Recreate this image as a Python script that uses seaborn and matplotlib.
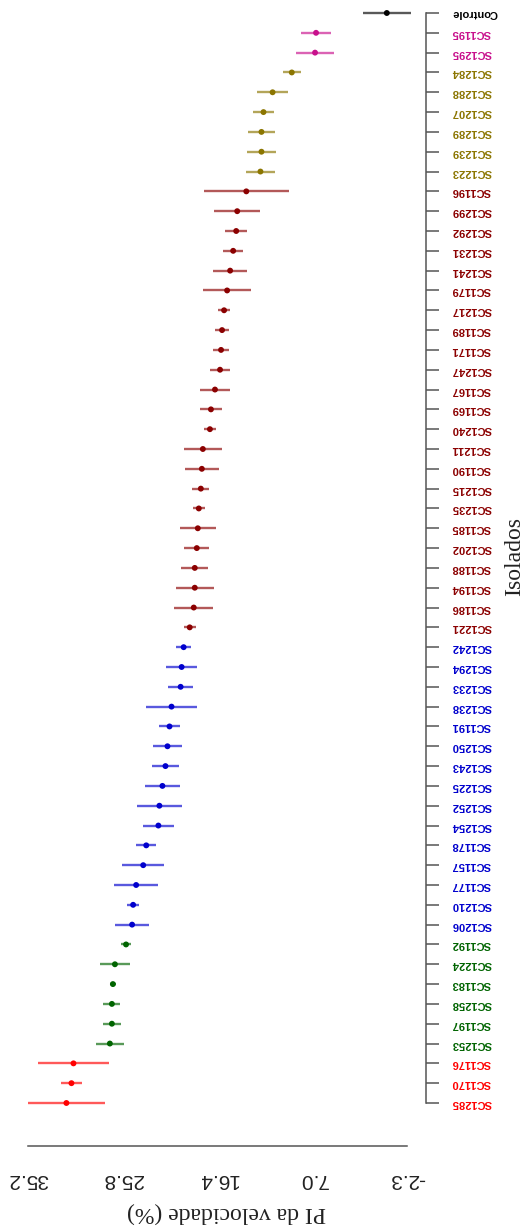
import numpy as np
import pandas as pd
import matplotlib
matplotlib.use("Agg")
import matplotlib.pyplot as plt
import seaborn as sns

# ---------------- data ----------------
isolados = ["Controle", "SC1195", "SC1295", "SC1284", "SC1288", "SC1207", "SC1289", "SC1239",
            "SC1223", "SC1196", "SC1299", "SC1292", "SC1231", "SC1241", "SC1179", "SC1217",
            "SC1189", "SC1171", "SC1247", "SC1167", "SC1169", "SC1240", "SC1211", "SC1190",
            "SC1215", "SC1235", "SC1185", "SC1202", "SC1188", "SC1194", "SC1186", "SC1221",
            "SC1242", "SC1294", "SC1233", "SC1238", "SC1191", "SC1250", "SC1243", "SC1225",
            "SC1252", "SC1254", "SC1178", "SC1157", "SC1177", "SC1210", "SC1206", "SC1192",
            "SC1224", "SC1183", "SC1258", "SC1197", "SC1253", "SC1176", "SC1170", "SC1285"]

pi_velocidade = [-0.3, 6.7, 6.8, 9.1, 11.0, 11.9, 12.1, 12.1, 12.2, 13.6, 14.5, 14.6, 14.9,
                 15.2, 15.5, 15.8, 16.0, 16.1, 16.2, 16.7, 17.1, 17.2, 17.9, 18.0, 18.1, 18.3,
                 18.4, 18.5, 18.7, 18.7, 18.8, 19.2, 19.8, 20.0, 20.1, 21.0, 21.2, 21.4, 21.6,
                 21.9, 22.2, 22.3, 23.5, 23.8, 24.5, 24.8, 24.9, 25.5, 26.6, 26.8, 26.9, 26.9,
                 27.1, 30.7, 30.9, 31.4]

erro = [2.4, 1.5, 1.9, 0.9, 1.5, 1.0, 1.3, 1.4, 1.4, 4.2, 2.3, 1.1, 1.0, 1.7, 2.4, 0.6,
        0.7, 0.75, 0.95, 1.5, 1.1, 0.6, 1.9, 1.7, 0.85, 0.6, 1.8, 1.25, 1.35, 1.9, 1.95,
        0.6, 0.75, 1.5, 1.2, 2.5, 1.0, 1.4, 1.3, 1.75, 2.2, 1.5, 1.0, 2.1, 2.2, 0.6, 1.7,
        0.5, 1.5, 0.3, 0.85, 0.9, 1.35, 3.5, 1.05, 3.8]

grupos = ["Controle", "G1", "G2", "G3", "G4", "G5", "G6"]
tamanho_grupos = [1, 2, 6, 23, 15, 6, 3]
cores_grupos = ["#000000", "#C8108C", "#8B7500", "#8B0000", "#0000CD", "#006400", "#FF0000"]

x_ticks = [35.2, 25.8, 16.4, 7.0, -2.3]
x_tick_labels = ["35.2", "25.8", "16.4", "7.0", "-2.3"]

# ---------------- build frame ----------------
grupo_col = [g for g, k in zip(grupos, tamanho_grupos) for _ in range(k)]
df = pd.DataFrame({"isolado": isolados, "pi": pi_velocidade, "erro": erro,
                   "grupo": grupo_col})
df["pos"] = np.arange(len(df))
palette = dict(zip(grupos, cores_grupos))
df["cor"] = df["grupo"].map(palette)

# ---------------- figure ----------------
sns.set_style("white")
plt.rcParams["font.family"] = ["Liberation Sans", "DejaVu Sans"]

W, H = 527, 1229
fig = plt.figure(figsize=(W / 100, H / 100), dpi=100)
ax = fig.add_axes([0, (H - 1146) / H, 426 / W, 1146 / H])

ax.hlines(df["pos"], df["pi"] - df["erro"], df["pi"] + df["erro"],
          colors=df["cor"], linewidth=1.7, alpha=0.65, zorder=2)
sns.scatterplot(data=df, x="pi", y="pos", hue="grupo", palette=palette, s=18,
                edgecolor="none", linewidth=0, legend=False, ax=ax, zorder=3)

ax.set_xlim(37.97, -4.179)
ax.set_ylim(57.17, -0.656)

for s in ["top", "left"]:
    ax.spines[s].set_visible(False)
for s in ["bottom", "right"]:
    ax.spines[s].set_color("#555555")
    ax.spines[s].set_linewidth(1.1)
ax.spines["bottom"].set_bounds(-2.3, 35.2)
ax.spines["right"].set_bounds(0, len(df) - 1)

ax.yaxis.tick_right()
ax.set_yticks(df["pos"])
ax.set_yticklabels(df["isolado"])
ax.tick_params(axis="y", length=9.4, width=1.1, color="#555555", pad=9,
               labelsize=8, labelrotation=180)
for lab, c in zip(ax.get_yticklabels(), df["cor"]):
    lab.set_color(c)
    lab.set_fontweight("bold")
    lab.set_va("center")

ax.set_xticks(x_ticks)
ax.set_xticklabels(x_tick_labels)
ax.tick_params(axis="x", length=9, width=1.1, color="#555555", pad=8,
               labelsize=15, labelrotation=180, labelcolor="#222222")

ax.set_xlabel("")
ax.set_ylabel("")

fig.text(227 / W, 1 - 1213 / H, "PI da velocidade (%)", rotation=180,
         ha="center", va="center", fontsize=17, family=["Liberation Serif", "DejaVu Serif"],
         color="#222222")
fig.text(515 / W, 1 - 557 / H, "Isolados", rotation=90,
         ha="center", va="center", fontsize=17, family=["Liberation Serif", "DejaVu Serif"],
         color="#222222")

fig.savefig("out.png", dpi=100)
